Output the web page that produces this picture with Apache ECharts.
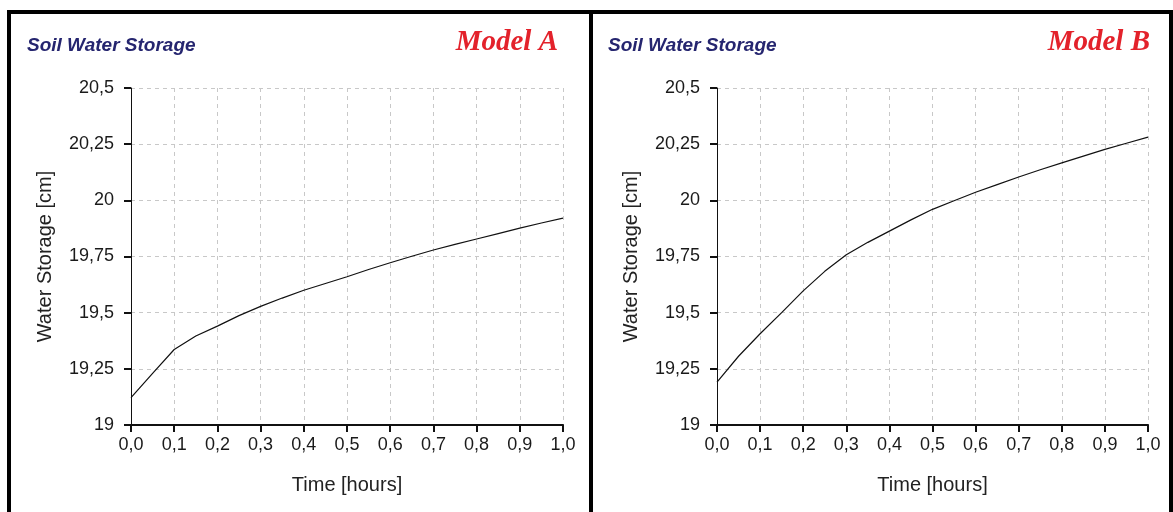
<!DOCTYPE html>
<html>
<head>
<meta charset="utf-8">
<script src="https://cdn.jsdelivr.net/npm/echarts@6/dist/echarts.min.js"></script>
<style>
  html, body { margin: 0; padding: 0; background: #fff; }
  #chart { width: 1173px; height: 512px; }
</style>
</head>
<body>
<div id="chart"></div>
<script>
// time in hours, shared by both models
const time = [0, 0.05, 0.1, 0.15, 0.2, 0.25, 0.3, 0.35, 0.4, 0.45, 0.5,
              0.55, 0.6, 0.65, 0.7, 0.75, 0.8, 0.85, 0.9, 0.95, 1.0];
// water storage [cm]
const storageA = [19.122, 19.23, 19.336, 19.396, 19.44, 19.487, 19.528, 19.565, 19.60, 19.63, 19.66,
                  19.692, 19.722, 19.751, 19.779, 19.804, 19.828, 19.852, 19.876, 19.899, 19.921];
const storageB = [19.191, 19.306, 19.406, 19.50, 19.597, 19.684, 19.758, 19.813, 19.863, 19.913, 19.96,
                  19.998, 20.036, 20.07, 20.104, 20.136, 20.167, 20.197, 20.227, 20.254, 20.281];
const panelTitles = ['Model A', 'Model B'];
const chartTitle = 'Soil Water Storage';

const font = 'Liberation Sans, Arial, sans-serif';
const serif = 'Liberation Serif, Times New Roman, serif';
const pairs = (ys) => time.map((t, i) => [t, ys[i]]);
const commaNum = (v) => String(v).replace('.', ',');

const grids = [
  { left: 131, right: 610, top: 88, bottom: 87 },
  { left: 717, right: 25, top: 88, bottom: 87 }
];

const xAxes = grids.map((g, i) => ({
  type: 'value', gridIndex: i, min: 0, max: 1, interval: 0.1,
  name: 'Time [hours]', nameLocation: 'middle', nameGap: 50,
  nameTextStyle: { fontFamily: font, fontSize: 20, color: '#222' },
  axisLine: { lineStyle: { color: '#111', width: 2 } },
  axisTick: { length: 7, lineStyle: { color: '#111', width: 2 } },
  axisLabel: { fontFamily: font, fontSize: 18, color: '#1a1a1a', margin: 11,
               formatter: (v) => v.toFixed(1).replace('.', ',') },
  splitLine: { show: true, lineStyle: { color: '#c8c8c8', type: [4, 4], width: 1 } }
}));

const yAxes = grids.map((g, i) => ({
  type: 'value', gridIndex: i, min: 19, max: 20.5, interval: 0.25,
  name: 'Water Storage [cm]', nameLocation: 'middle', nameGap: 76,
  nameTextStyle: { fontFamily: font, fontSize: 20, color: '#222' },
  axisLine: { show: true, lineStyle: { color: '#111', width: 1 } },
  axisTick: { show: true, length: 7, lineStyle: { color: '#111', width: 2 } },
  axisLabel: { fontFamily: font, fontSize: 18, color: '#1a1a1a', margin: 17, formatter: commaNum },
  splitLine: { show: true, lineStyle: { color: '#c8c8c8', type: [4, 4], width: 1 } }
}));

const titleStyle = { fontFamily: font, fontSize: 19, fontWeight: 'bold', fontStyle: 'italic', color: '#25256f' };
const modelStyle = { fontFamily: serif, fontSize: 29, fontWeight: 'bold', fontStyle: 'italic', color: '#e3222b' };

const chart = echarts.init(document.getElementById('chart'));
chart.setOption({
  animation: false,
  backgroundColor: '#fff',
  title: [
    { text: chartTitle, left: 27, top: 36, padding: 0, textStyle: titleStyle },
    { text: chartTitle, left: 608, top: 36, padding: 0, textStyle: titleStyle },
    { text: panelTitles[0], right: 615, top: 28, padding: 0, textStyle: modelStyle },
    { text: panelTitles[1], right: 23, top: 28, padding: 0, textStyle: modelStyle }
  ],
  grid: grids,
  xAxis: xAxes,
  yAxis: yAxes,
  series: [
    { type: 'line', xAxisIndex: 0, yAxisIndex: 0, data: pairs(storageA), showSymbol: false,
      lineStyle: { color: '#111', width: 1.2 } },
    { type: 'line', xAxisIndex: 1, yAxisIndex: 1, data: pairs(storageB), showSymbol: false,
      lineStyle: { color: '#111', width: 1.2 } }
  ],
  // panel frames
  graphic: [
    { type: 'line', shape: { x1: 7, y1: 12, x2: 1173, y2: 12 }, style: { stroke: '#000', lineWidth: 4 } },
    { type: 'line', shape: { x1: 9, y1: 10, x2: 9, y2: 520 }, style: { stroke: '#000', lineWidth: 4 } },
    { type: 'line', shape: { x1: 591, y1: 10, x2: 591, y2: 520 }, style: { stroke: '#000', lineWidth: 4 } },
    { type: 'line', shape: { x1: 1171, y1: 10, x2: 1171, y2: 520 }, style: { stroke: '#000', lineWidth: 4 } }
  ]
});
</script>
</body>
</html>
